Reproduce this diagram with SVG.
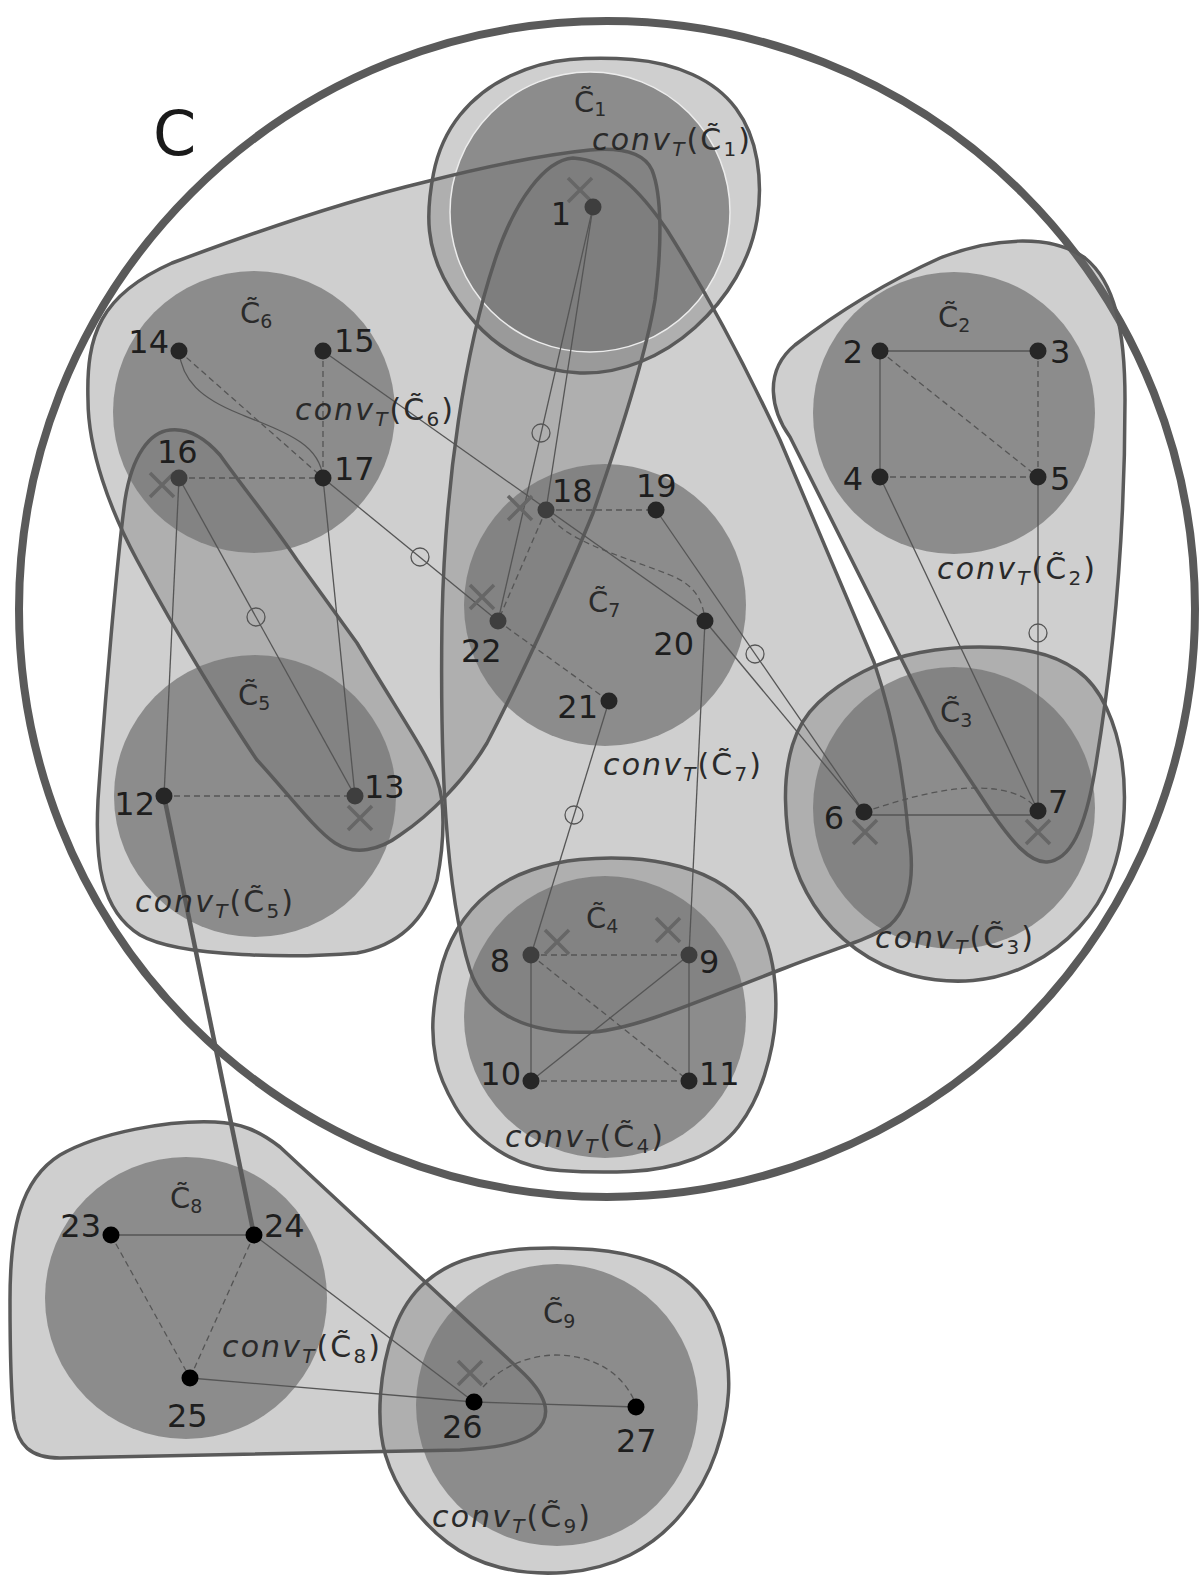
<svg xmlns="http://www.w3.org/2000/svg" xmlns:xlink="http://www.w3.org/1999/xlink" width="1199" height="1579" viewBox="0 0 1199 1579">
<style>
.hf{fill:#737373;fill-opacity:0.34;stroke:none}
.cf{fill:#737373;fill-opacity:0.73;stroke:none}
.ol{fill:none;stroke:#5a5a5a;stroke-width:3.5;stroke-linejoin:round}
.e{stroke:#555;stroke-width:1.3;fill:none}
.d{stroke:#555;stroke-width:1.3;fill:none;stroke-dasharray:6 4}
.mk{fill:none;stroke:#555;stroke-width:1.3}
.x{stroke:#666;stroke-width:3.5;fill:none}
.nd{fill:#262626}
.nl{fill:#3e3e3e}
.nb{fill:#000}
.lb{font-family:"DejaVu Sans",sans-serif;font-size:32px;fill:#1e1e1e}
.cl{font-family:"DejaVu Sans",sans-serif;font-size:29px;fill:#2a2a2a}
.sb{font-size:19px}
.cv{font-family:"DejaVu Sans",sans-serif;font-size:30px;fill:#2a2a2a}
.it{font-style:italic}
.st{font-style:italic;font-size:20px}
.ss{font-size:20px}
</style>
<defs>
<path id="pW" d="M 433.5,173.5 Q 440,140 460,115 Q 480,90 510,76 Q 540,62 570,59.5 Q 600,57 632.5,59.5 Q 665,62 692.5,74.5 Q 720,87 736,108.5 Q 752,130 757,160 Q 762,190 757,220 Q 752,250 736,277.5 Q 720,305 695,327.5 Q 670,350 640,362 Q 610,374 580,373 Q 550,372 522.5,358.5 Q 495,345 475,322.5 Q 455,300 443.5,277.5 Q 432,255 429.5,231 Q 427,207 433.5,173.5 Z"/>
<path id="pV" d="M 790,437 C 772,412 762,372 795,345 C 830,318 880,285 940,258 C 990,238 1050,233 1085,258 C 1115,282 1125,330 1125,400 C 1125,520 1115,650 1095,770 C 1085,830 1070,860 1047,862 C 1030,863 1012,842 990,810 L 937,730 Z"/>
<path id="pX" d="M 792.5,745 Q 800,720 818.5,702.5 Q 837,685 863.5,671.5 Q 890,658 920,652.5 Q 950,647 980,647 Q 1010,647 1034,652 Q 1058,657 1076.5,670 Q 1095,683 1106.5,708 Q 1118,733 1122,761.5 Q 1126,790 1123.5,820 Q 1121,850 1110.5,877.5 Q 1100,905 1079,927.5 Q 1058,950 1030.5,964 Q 1003,978 973,980.5 Q 943,983 912.5,975.5 Q 882,968 856,949 Q 830,930 814,905 Q 798,880 792,855 Q 786,830 785.5,800 Q 785,770 792.5,745 Z"/>
<path id="pY" d="M 439.5,975 Q 445,950 457.5,929 Q 470,908 489,893 Q 508,878 531.5,870 Q 555,862 580,859.5 Q 605,857 630,858.5 Q 655,860 680,866.5 Q 705,873 725,886.5 Q 745,900 756.5,920 Q 768,940 772.5,965 Q 777,990 775.5,1017.5 Q 774,1045 764.5,1075 Q 755,1105 738.5,1126.5 Q 722,1148 693.5,1159 Q 665,1170 630,1171.5 Q 595,1173 560,1170.5 Q 525,1168 497.5,1150 Q 470,1132 455,1106 Q 440,1080 436,1060 Q 432,1040 433,1020 Q 434,1000 439.5,975 Z"/>
<path id="pZ" d="M 380.5,1395 Q 383,1360 394,1330 Q 405,1300 425,1282.5 Q 445,1265 472.5,1257.5 Q 500,1250 530,1248.5 Q 560,1247 592.5,1249.5 Q 625,1252 652.5,1262 Q 680,1272 697.5,1291 Q 715,1310 722.5,1337.5 Q 730,1365 728.5,1392.5 Q 727,1420 716,1452.5 Q 705,1485 682.5,1512.5 Q 660,1540 630,1555 Q 600,1570 565,1572.5 Q 530,1575 500,1567.5 Q 470,1560 447.5,1542.5 Q 425,1525 409,1502.5 Q 393,1480 385.5,1455 Q 378,1430 380.5,1395 Z"/>
<path id="pU" d="M 10,1300 C 10,1230 20,1180 60,1155 C 100,1132 170,1120 215,1122 C 240,1123 258,1130 280,1147 L 520,1370 C 545,1393 555,1415 535,1432 C 520,1445 490,1448 460,1450 L 60,1458 C 30,1458 18,1445 14,1420 C 10,1385 10,1340 10,1300 Z"/>
<path id="pT" d="M 573,158 C 545,160 515,200 495,260 C 465,350 445,480 442,620 C 440,760 445,890 470,970 C 485,1015 530,1035 593,1032 C 640,1028 700,1000 785,968 C 830,950 870,940 890,925 C 912,905 915,870 908,830 C 903,770 892,715 874,662 L 780,440 C 745,365 708,295 667,230 C 640,190 610,160 573,158 Z"/>
<path id="pQ" d="M 172,263 C 260,230 350,200 425,182 C 480,168 540,155 590,150 C 625,147 645,155 652,170 C 662,195 662,245 655,300 C 645,360 615,450 593,513 C 570,570 520,680 487,743 C 465,780 430,815 400,835 C 380,850 355,856 335,843 C 315,830 285,790 257,760 C 230,720 180,640 137,560 C 110,510 88,450 88,400 C 86,335 100,295 172,263 Z"/>
<path id="pR" d="M 170,430 C 150,432 132,455 125,500 C 117,560 105,700 98,800 C 95,860 100,910 140,935 C 180,958 300,958 357,953 C 400,945 425,920 437,880 C 445,840 445,800 437,780 C 425,750 400,715 357,643 L 297,560 C 270,520 245,490 220,455 C 205,438 188,428 170,430 Z"/>
</defs>

<g id="outer-C">
<circle cx="607" cy="609" r="588" fill="none" stroke="#5a5a5a" stroke-width="8"/>
<text x="153" y="155" font-family="DejaVu Sans, sans-serif" font-size="62" fill="#1a1a1a">C</text>
</g>

<g id="region-fills">
<use xlink:href="#pW" class="hf"/>
<use xlink:href="#pV" class="hf"/>
<use xlink:href="#pX" class="hf"/>
<use xlink:href="#pY" class="hf"/>
<use xlink:href="#pZ" class="hf"/>
<use xlink:href="#pU" class="hf"/>
<use xlink:href="#pT" class="hf"/>
<use xlink:href="#pQ" class="hf"/>
<use xlink:href="#pR" class="hf"/>
<circle id="C1" cx="590" cy="212" r="140" class="cf"/>
<circle cx="590" cy="212" r="140" fill="none" stroke="#ececec" stroke-width="1.5"/>
<circle id="C2" cx="954" cy="413" r="141" class="cf"/>
<circle id="C3" cx="954" cy="808" r="141" class="cf"/>
<circle id="C4" cx="605" cy="1017" r="141" class="cf"/>
<circle id="C5" cx="255" cy="796" r="141" class="cf"/>
<circle id="C6" cx="254" cy="412" r="141" class="cf"/>
<circle id="C7" cx="605" cy="605" r="141" class="cf"/>
<circle id="C8" cx="186" cy="1298" r="141" class="cf"/>
<circle id="C9" cx="557" cy="1405" r="141" class="cf"/>
</g>

<g id="hull-outlines">
<use id="convC1" xlink:href="#pW" class="ol"/>
<use id="convC2" xlink:href="#pV" class="ol"/>
<use id="convC3" xlink:href="#pX" class="ol"/>
<use id="convC4" xlink:href="#pY" class="ol"/>
<use id="convC9" xlink:href="#pZ" class="ol"/>
<use id="convC8" xlink:href="#pU" class="ol"/>
<use id="hullT" xlink:href="#pT" class="ol"/>
<use id="hullQ" xlink:href="#pQ" class="ol"/>
<use id="hullR" xlink:href="#pR" class="ol"/>
</g>

<g id="connectors">
<path class="e" d="M179,351 C182,380 200,398 240,414 C290,434 320,445 323,478"/>
<line class="d" x1="179" y1="351" x2="323" y2="478"/>
<line class="d" x1="323" y1="351" x2="323" y2="478"/>
<line class="d" x1="179" y1="478" x2="323" y2="478"/>
<line class="d" x1="164" y1="796" x2="355" y2="796"/>
<line class="e" x1="179" y1="478" x2="355" y2="796"/>
<line class="e" x1="179" y1="478" x2="164" y2="796"/>
<line class="e" x1="323" y1="478" x2="355" y2="796"/>
<line class="e" x1="323" y1="351" x2="705" y2="621"/>
<line class="e" x1="323" y1="478" x2="498" y2="621"/>
<line class="e" x1="593" y1="207" x2="546" y2="510"/>
<line class="e" x1="593" y1="207" x2="498" y2="621"/>
<line class="d" x1="546" y1="510" x2="656" y2="510"/>
<line class="d" x1="546" y1="510" x2="498" y2="621"/>
<line class="d" x1="498" y1="621" x2="609" y2="701"/>
<path class="d" d="M546,510 C560,540 620,555 670,575 C695,585 703,600 705,621"/>
<line class="e" x1="656" y1="510" x2="864" y2="812"/>
<line class="e" x1="705" y1="621" x2="864" y2="812"/>
<line class="e" x1="705" y1="621" x2="689" y2="955"/>
<line class="e" x1="609" y1="701" x2="531" y2="955"/>
<line class="e" x1="880" y1="351" x2="1038" y2="351"/>
<line class="e" x1="880" y1="351" x2="880" y2="477"/>
<line class="d" x1="880" y1="351" x2="1038" y2="477"/>
<line class="d" x1="1038" y1="351" x2="1038" y2="477"/>
<line class="d" x1="880" y1="477" x2="1038" y2="477"/>
<line class="e" x1="880" y1="477" x2="1038" y2="811"/>
<line class="e" x1="1038" y1="477" x2="1038" y2="811"/>
<line class="e" x1="864" y1="815" x2="1038" y2="815"/>
<path class="d" d="M864,812 C900,800 940,788 975,788 C1005,788 1028,795 1038,811"/>
<line class="d" x1="531" y1="955" x2="689" y2="955"/>
<line class="d" x1="531" y1="955" x2="689" y2="1081"/>
<line class="d" x1="531" y1="1081" x2="689" y2="1081"/>
<line class="e" x1="531" y1="955" x2="531" y2="1081"/>
<line class="e" x1="689" y1="955" x2="689" y2="1081"/>
<line class="e" x1="689" y1="955" x2="531" y2="1081"/>
<line x1="164" y1="796" x2="254" y2="1235" stroke="#5a5a5a" stroke-width="4.5"/>
<line class="e" x1="111" y1="1235" x2="254" y2="1235" stroke="#444"/>
<line class="d" x1="111" y1="1235" x2="190" y2="1378"/>
<line class="d" x1="254" y1="1235" x2="190" y2="1378"/>
<line class="e" x1="254" y1="1235" x2="474" y2="1402"/>
<line class="e" x1="190" y1="1378" x2="474" y2="1402"/>
<line class="e" x1="474" y1="1402" x2="636" y2="1407"/>
<path class="d" d="M483,1387 C500,1368 525,1356 555,1355 C590,1355 620,1370 634,1400"/>
</g>

<g id="markers">
<circle class="mk" cx="541" cy="433" r="9"/>
<circle class="mk" cx="420" cy="557" r="9"/>
<circle class="mk" cx="256" cy="617" r="9"/>
<circle class="mk" cx="755" cy="654" r="9"/>
<circle class="mk" cx="1038" cy="633" r="9"/>
<circle class="mk" cx="574" cy="815" r="9"/>
<path class="x" d="M568,178 L592,202 M592,178 L568,202"/>
<path class="x" d="M150,473 L174,497 M174,473 L150,497"/>
<path class="x" d="M508,496 L532,520 M532,496 L508,520"/>
<path class="x" d="M470,585 L494,609 M494,585 L470,609"/>
<path class="x" d="M348,806 L372,830 M372,806 L348,830"/>
<path class="x" d="M853,820 L877,844 M877,820 L853,844"/>
<path class="x" d="M1026,820 L1050,844 M1050,820 L1026,844"/>
<path class="x" d="M545,930 L569,954 M569,930 L545,954"/>
<path class="x" d="M656,918 L680,942 M680,918 L656,942"/>
<path class="x" d="M458,1361 L482,1385 M482,1361 L458,1385"/>
</g>

<g id="nodes">
<g id="n1"><circle class="nl" cx="593" cy="207" r="8.5"/><text class="lb" x="571" y="225" text-anchor="end">1</text></g>
<g id="n2"><circle class="nd" cx="880" cy="351" r="8.5"/><text class="lb" x="863" y="363" text-anchor="end">2</text></g>
<g id="n3"><circle class="nd" cx="1038" cy="351" r="8.5"/><text class="lb" x="1050" y="363">3</text></g>
<g id="n4"><circle class="nd" cx="880" cy="477" r="8.5"/><text class="lb" x="863" y="490" text-anchor="end">4</text></g>
<g id="n5"><circle class="nd" cx="1038" cy="477" r="8.5"/><text class="lb" x="1050" y="490">5</text></g>
<g id="n6"><circle class="nd" cx="864" cy="812" r="8.5"/><text class="lb" x="844" y="829" text-anchor="end">6</text></g>
<g id="n7"><circle class="nd" cx="1038" cy="811" r="8.5"/><text class="lb" x="1048" y="813">7</text></g>
<g id="n8"><circle class="nl" cx="531" cy="955" r="8.5"/><text class="lb" x="510" y="972" text-anchor="end">8</text></g>
<g id="n9"><circle class="nl" cx="689" cy="955" r="8.5"/><text class="lb" x="699" y="973">9</text></g>
<g id="n10"><circle class="nd" cx="531" cy="1081" r="8.5"/><text class="lb" x="521" y="1085" text-anchor="end">10</text></g>
<g id="n11"><circle class="nd" cx="689" cy="1081" r="8.5"/><text class="lb" x="699" y="1085">11</text></g>
<g id="n12"><circle class="nd" cx="164" cy="796" r="8.5"/><text class="lb" x="155" y="815" text-anchor="end">12</text></g>
<g id="n13"><circle class="nl" cx="355" cy="796" r="8.5"/><text class="lb" x="364" y="798">13</text></g>
<g id="n14"><circle class="nd" cx="179" cy="351" r="8.5"/><text class="lb" x="169" y="353" text-anchor="end">14</text></g>
<g id="n15"><circle class="nd" cx="323" cy="351" r="8.5"/><text class="lb" x="334" y="352">15</text></g>
<g id="n16"><circle class="nl" cx="179" cy="478" r="8.5"/><text class="lb" x="157" y="463">16</text></g>
<g id="n17"><circle class="nd" cx="323" cy="478" r="8.5"/><text class="lb" x="334" y="480">17</text></g>
<g id="n18"><circle class="nl" cx="546" cy="510" r="8.5"/><text class="lb" x="552" y="502">18</text></g>
<g id="n19"><circle class="nd" cx="656" cy="510" r="8.5"/><text class="lb" x="636" y="497">19</text></g>
<g id="n20"><circle class="nd" cx="705" cy="621" r="8.5"/><text class="lb" x="694" y="655" text-anchor="end">20</text></g>
<g id="n21"><circle class="nd" cx="609" cy="701" r="8.5"/><text class="lb" x="598" y="718" text-anchor="end">21</text></g>
<g id="n22"><circle class="nl" cx="498" cy="621" r="8.5"/><text class="lb" x="461" y="662">22</text></g>
<g id="n23"><circle class="nb" cx="111" cy="1235" r="8.5"/><text class="lb" x="101" y="1237" text-anchor="end">23</text></g>
<g id="n24"><circle class="nb" cx="254" cy="1235" r="8.5"/><text class="lb" x="264" y="1237">24</text></g>
<g id="n25"><circle class="nb" cx="190" cy="1378" r="8.5"/><text class="lb" x="167" y="1427">25</text></g>
<g id="n26"><circle class="nb" cx="474" cy="1402" r="8.5"/><text class="lb" x="442" y="1438">26</text></g>
<g id="n27"><circle class="nb" cx="636" cy="1407" r="8.5"/><text class="lb" x="616" y="1452">27</text></g>
</g>

<g id="cluster-labels">
<text class="cl" x="574" y="112">C&#x303;<tspan class="sb" dy="4">1</tspan></text>
<text class="cl" x="938" y="327">C&#x303;<tspan class="sb" dy="5">2</tspan></text>
<text class="cl" x="940" y="722">C&#x303;<tspan class="sb" dy="5">3</tspan></text>
<text class="cl" x="586" y="928">C&#x303;<tspan class="sb" dy="5">4</tspan></text>
<text class="cl" x="238" y="705">C&#x303;<tspan class="sb" dy="5">5</tspan></text>
<text class="cl" x="240" y="323">C&#x303;<tspan class="sb" dy="5">6</tspan></text>
<text class="cl" x="588" y="612">C&#x303;<tspan class="sb" dy="5">7</tspan></text>
<text class="cl" x="170" y="1208">C&#x303;<tspan class="sb" dy="5">8</tspan></text>
<text class="cl" x="543" y="1323">C&#x303;<tspan class="sb" dy="5">9</tspan></text>

<text class="cv" x="592" y="150" textLength="158" lengthAdjust="spacing"><tspan class="it">conv</tspan><tspan class="st" dy="6">T</tspan><tspan dy="-6">(C&#x303;</tspan><tspan class="ss" dy="6">1</tspan><tspan dy="-6">)</tspan></text>
<text class="cv" x="937" y="579" textLength="158" lengthAdjust="spacing"><tspan class="it">conv</tspan><tspan class="st" dy="6">T</tspan><tspan dy="-6">(C&#x303;</tspan><tspan class="ss" dy="6">2</tspan><tspan dy="-6">)</tspan></text>
<text class="cv" x="875" y="948" textLength="158" lengthAdjust="spacing"><tspan class="it">conv</tspan><tspan class="st" dy="6">T</tspan><tspan dy="-6">(C&#x303;</tspan><tspan class="ss" dy="6">3</tspan><tspan dy="-6">)</tspan></text>
<text class="cv" x="505" y="1147" textLength="158" lengthAdjust="spacing"><tspan class="it">conv</tspan><tspan class="st" dy="6">T</tspan><tspan dy="-6">(C&#x303;</tspan><tspan class="ss" dy="6">4</tspan><tspan dy="-6">)</tspan></text>
<text class="cv" x="135" y="912" textLength="158" lengthAdjust="spacing"><tspan class="it">conv</tspan><tspan class="st" dy="6">T</tspan><tspan dy="-6">(C&#x303;</tspan><tspan class="ss" dy="6">5</tspan><tspan dy="-6">)</tspan></text>
<text class="cv" x="295" y="420" textLength="158" lengthAdjust="spacing"><tspan class="it">conv</tspan><tspan class="st" dy="6">T</tspan><tspan dy="-6">(C&#x303;</tspan><tspan class="ss" dy="6">6</tspan><tspan dy="-6">)</tspan></text>
<text class="cv" x="603" y="775" textLength="158" lengthAdjust="spacing"><tspan class="it">conv</tspan><tspan class="st" dy="6">T</tspan><tspan dy="-6">(C&#x303;</tspan><tspan class="ss" dy="6">7</tspan><tspan dy="-6">)</tspan></text>
<text class="cv" x="222" y="1357" textLength="158" lengthAdjust="spacing"><tspan class="it">conv</tspan><tspan class="st" dy="6">T</tspan><tspan dy="-6">(C&#x303;</tspan><tspan class="ss" dy="6">8</tspan><tspan dy="-6">)</tspan></text>
<text class="cv" x="432" y="1527" textLength="158" lengthAdjust="spacing"><tspan class="it">conv</tspan><tspan class="st" dy="6">T</tspan><tspan dy="-6">(C&#x303;</tspan><tspan class="ss" dy="6">9</tspan><tspan dy="-6">)</tspan></text>
</g>
</svg>
